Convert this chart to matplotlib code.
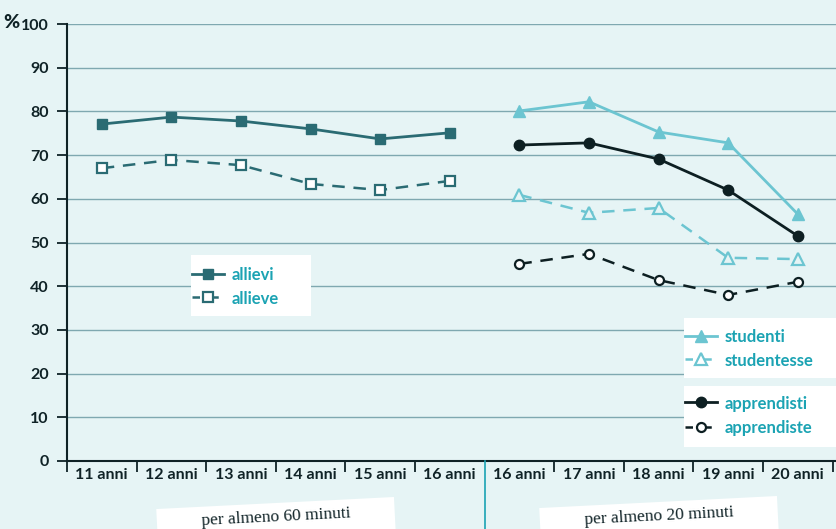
import matplotlib
matplotlib.use("Agg")
import matplotlib.pyplot as plt
from matplotlib.lines import Line2D
from matplotlib.patches import Rectangle
from matplotlib.transforms import IdentityTransform

# Categories (two groups: 11-16 for allievi, 16-20 for students/apprentices)
ages_a = ["11 anni", "12 anni", "13 anni", "14 anni", "15 anni", "16 anni"]
ages_b = ["16 anni", "17 anni", "18 anni", "19 anni", "20 anni"]

allievi = [77.1, 78.7, 77.8, 76.0, 73.7, 75.1]
allieve = [67.0, 68.9, 67.7, 63.4, 62.0, 64.1]
studenti = [80.1, 82.2, 75.3, 72.8, 56.5]
studentesse = [60.9, 56.8, 57.9, 46.5, 46.2]
apprendisti = [72.3, 72.8, 69.1, 62.0, 51.5]
apprendiste = [45.1, 47.4, 41.4, 38.0, 41.0]

yticks = list(range(0, 101, 10))
group_labels = ["per almeno 60 minuti", "per almeno 20 minuti"]

BG = "#e6f4f5"
GRID = "#7fa8b0"
DARK = "#0f2226"
TEAL_TXT = "#1ba3b3"
C_ALL = "#2a6b73"
C_STU = "#6cc5d1"
C_APP = "#0d1f22"

plt.rcParams["font.family"] = ["Lato", "DejaVu Sans"]

W, H = 836, 529
fig = plt.figure(figsize=(W / 100, H / 100), dpi=100, facecolor=BG)
ax = fig.add_axes([67 / W, 1 - 461 / H, 1 - 67 / W, (461 - 24) / H])
ax.set_facecolor(BG)

xa = [i + 0.5 for i in range(len(ages_a))]
xb = [len(ages_a) + i + 0.5 for i in range(len(ages_b))]

dash = (0, (5, 3.5))
styles = {
    "allievi": dict(color=C_ALL, lw=2, marker="s", ms=6.5),
    "allieve": dict(color=C_ALL, lw=1.8, marker="s", ms=6.5, mfc="white", mew=1.6),
    "studenti": dict(color=C_STU, lw=2, marker="^", ms=8.5),
    "studentesse": dict(color=C_STU, lw=1.8, marker="^", ms=8.5, mfc=BG, mew=1.6),
    "apprendisti": dict(color=C_APP, lw=2, marker="o", ms=7.5),
    "apprendiste": dict(color=C_APP, lw=1.8, marker="o", ms=6.5, mfc="white", mew=1.6),
}

ax.plot(xa, allievi, clip_on=False, zorder=5, **styles["allievi"])
ax.plot(xa, allieve, ls=dash, clip_on=False, zorder=5, **styles["allieve"])
ax.plot(xb, studenti, clip_on=False, zorder=5, **styles["studenti"])
ax.plot(xb, studentesse, ls=dash, clip_on=False, zorder=5, **styles["studentesse"])
ax.plot(xb, apprendisti, clip_on=False, zorder=5, **styles["apprendisti"])
ax.plot(xb, apprendiste, ls=dash, clip_on=False, zorder=5, **styles["apprendiste"])

n = len(ages_a) + len(ages_b)
ax.set_xlim(0, 11.05)
ax.set_ylim(0, 100)
ax.set_yticks(yticks)
ax.set_yticklabels([str(v) for v in yticks], fontsize=11.5, fontweight="bold", color=DARK)
ax.set_xticks([i + 0.5 for i in range(n)])
ax.set_xticklabels(ages_a + ages_b, fontsize=11.5, fontweight="bold", color=DARK)
ax.tick_params(axis="x", length=0, pad=5)
ax.tick_params(axis="y", length=7, width=1.3, color=DARK, pad=6)
ax.set_xticks([i for i in range(n + 1) if i != len(ages_a)], minor=True)
ax.tick_params(axis="x", which="minor", length=8, width=1.3, color=DARK, direction="out")

for v in yticks[1:]:
    ax.axhline(v, color=GRID, lw=1, zorder=1)

for s in ["top", "right"]:
    ax.spines[s].set_visible(False)
for s in ["left", "bottom"]:
    ax.spines[s].set_color(DARK)
    ax.spines[s].set_linewidth(1.5)

# Divider between the two groups
ax.plot([len(ages_a)] * 2, [0, -16], color=TEAL_TXT, lw=1.2, clip_on=False, zorder=6)

fig.text(3 / W, 1 - 22 / H, "%", fontsize=14, fontweight="black", color=DARK,
         ha="left", va="center")

# Pixel-space helpers (origin at top-left)
px = IdentityTransform()


def legend_box(x0, y0, x1, y1, entries):
    fig.add_artist(Rectangle((x0, H - y1), x1 - x0, y1 - y0, transform=px,
                             fc="white", ec="none", zorder=10))
    for (label, style, dashed, yrow) in entries:
        lx0, lx1 = x0 + 1, x0 + 33
        mx = (lx0 + lx1) / 2
        if dashed:
            fig.add_artist(Line2D([lx0, lx1], [H - yrow] * 2, transform=px,
                                  color=style["color"], lw=1.8,
                                  ls=(0, (3, 4.5)), zorder=11))
        else:
            fig.add_artist(Line2D([lx0, lx1], [H - yrow] * 2, transform=px,
                                  color=style["color"], lw=2, zorder=11))
        mstyle = {k: v for k, v in style.items() if k != "lw"}
        if dashed:
            mstyle["mfc"] = "white"
        fig.add_artist(Line2D([mx], [H - yrow], transform=px, ls="none",
                              zorder=12, **mstyle))
        fig.text((x0 + 41) / W, 1 - yrow / H, label, fontsize=12, fontweight="bold",
                 color=TEAL_TXT, ha="left", va="center_baseline", zorder=12)


legend_box(191, 255, 311, 316, [("allievi", styles["allievi"], False, 274),
                                ("allieve", styles["allieve"], True, 297)])
legend_box(684, 318, 836, 378, [("studenti", styles["studenti"], False, 336),
                                ("studentesse", styles["studentesse"], True, 359)])
legend_box(684, 386, 836, 447, [("apprendisti", styles["apprendisti"], False, 402),
                                ("apprendiste", styles["apprendiste"], True, 427)])

# Tilted white label plates under each group
for (cx, cy), txt in zip([(276, 521), (659, 520)], group_labels):
    fig.add_artist(Rectangle((cx - 119, H - cy - 18), 238, 36, angle=2.9,
                             rotation_point="center", transform=px,
                             fc="white", ec="none", zorder=10))
    fig.text(cx / W, 1 - (cy - 4) / H, txt, fontsize=12.5, color=DARK,
             family=["Liberation Serif", "DejaVu Serif"], rotation=2.9,
             ha="center", va="center", zorder=11)

fig.savefig("out.png", dpi=100, facecolor=BG)
